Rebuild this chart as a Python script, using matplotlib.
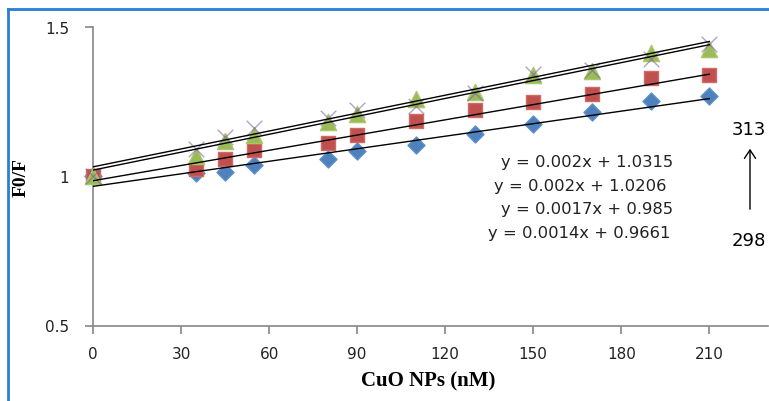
import matplotlib
matplotlib.use('Agg')
import matplotlib.pyplot as plt
from matplotlib.lines import Line2D

# concentrations (nM)
conc = [0, 35, 45, 55, 80, 90, 110, 130, 150, 170, 190, 210]

# F0/F for each temperature series
s_blue = [1.0, 1.01, 1.014, 1.038, 1.059, 1.084, 1.105, 1.140, 1.176, 1.214, 1.251, 1.269]
s_red = [1.0, 1.023, 1.059, 1.088, 1.110, 1.138, 1.186, 1.221, 1.250, 1.277, 1.328, 1.338]
s_green = [1.0, 1.068, 1.118, 1.137, 1.182, 1.210, 1.260, 1.282, 1.338, 1.352, 1.414, 1.425]
s_purple = [1.0, 1.090, 1.133, 1.163, 1.196, 1.222, 1.237, 1.280, 1.341, 1.356, 1.394, 1.444]

# trendlines as printed on chart
slopes = [0.002, 0.002, 0.0017, 0.0014]
intercepts = [1.0315, 1.0206, 0.985, 0.9661]
eq_labels = ["y = 0.002x + 1.0315", "y = 0.002x + 1.0206",
             "y = 0.0017x + 0.985", "y = 0.0014x + 0.9661"]

xticks = [0, 30, 60, 90, 120, 150, 180, 210]
yticks = [0.5, 1, 1.5]

fig = plt.figure(figsize=(7.69, 4.02), dpi=100)
ax = fig.add_axes([93/769, 75.5/402, 675/769, 298.5/402])

grey = '#868686'
ax.scatter(conc, s_blue, marker='D', s=75, color='#4F81BD', edgecolors='#5B8FCB', zorder=3, clip_on=False)
ax.scatter(conc, s_red, marker='s', s=115, color='#C0504D', edgecolors='#D06A67', zorder=3, clip_on=False)
ax.scatter(conc, s_green, marker='^', s=135, color='#9BBB59', edgecolors='#A9C86A', zorder=3, clip_on=False)
ax.scatter(conc, s_purple, marker='x', s=125, color='#8064A2', linewidths=1.0, alpha=0.6,
           zorder=4, clip_on=False)

for m, b in zip(slopes, intercepts):
    ax.plot([conc[0], conc[-1]], [b, m*conc[-1] + b], color='black', lw=1.0, zorder=5)

ax.set_xlim(0, 230)
ax.set_ylim(0.5, 1.5)
ax.set_xticks(xticks)
ax.set_yticks(yticks)
ax.set_yticklabels(['0.5', '1', '1.5'])
for sp in ['top', 'right']:
    ax.spines[sp].set_visible(False)
for sp in ['left', 'bottom']:
    ax.spines[sp].set_color(grey)
    ax.spines[sp].set_linewidth(1.2)
ax.tick_params(colors=grey, labelcolor='#222222', labelsize=11, length=6, width=1.2)
ax.tick_params(axis='y', pad=11)
ax.tick_params(axis='x', pad=9)

fig.text(428/769, 1 - 381/402, 'CuO NPs (nM)', fontfamily='Liberation Serif',
         fontweight='bold', fontsize=15, ha='center', va='center')
fig.text(21/769, 1 - 178/402, 'F0/F', fontfamily='Liberation Serif', fontweight='bold',
         fontsize=14, rotation=90, ha='center', va='center')

# equation labels
eq_pos = [(587, 163), (580, 187), (587, 210), (579, 234)]
for (px, py), t in zip(eq_pos, eq_labels):
    fig.text(px/769, 1 - py/402, t, fontfamily='DejaVu Sans', fontsize=11.8,
             ha='center', va='center', color='#222222')

fig.text(749/769, 1 - 130/402, '313', fontfamily='DejaVu Sans', fontsize=13, ha='center', va='center')
fig.text(749/769, 1 - 241/402, '298', fontfamily='DejaVu Sans', fontsize=13, ha='center', va='center')
fig.patches.append(matplotlib.patches.FancyArrowPatch(
    (750/769, 1 - 213/402), (750/769, 1 - 147/402), transform=fig.transFigure,
    arrowstyle='->,head_length=6,head_width=4', color='black', lw=1.0))

# blue frame on left and top
fig.add_artist(Line2D([7.5/769, 7.5/769], [0, 1 - 10/402], transform=fig.transFigure,
                      color='#2A7FD4', lw=2))
fig.add_artist(Line2D([7.5/769, 1], [1 - 10/402, 1 - 10/402], transform=fig.transFigure,
                      color='#2A7FD4', lw=2))

fig.savefig('out.png', dpi=100)
